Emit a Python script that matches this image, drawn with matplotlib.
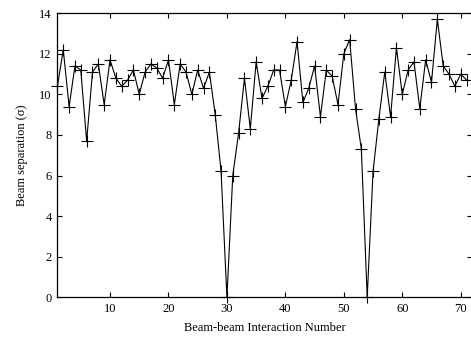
import matplotlib
matplotlib.use("Agg")
import matplotlib.pyplot as plt

plt.rcParams['font.family'] = ['Liberation Serif', 'DejaVu Serif']

# interaction number and beam separation (sigma)
interaction = list(range(1, 72))
separation = [
    10.4, 12.2, 9.4, 11.4, 11.2, 7.7, 11.1, 11.5, 9.5, 11.7,
    10.8, 10.4, 10.7, 11.2, 10.0, 11.1, 11.5, 11.3, 10.8, 11.7,
    9.5, 11.5, 11.1, 10.0, 11.2, 10.3, 11.1, 9.0, 6.2, 0.0,
    6.0, 8.1, 10.8, 8.3, 11.6, 9.8, 10.4, 11.2, 11.2, 9.4,
    10.7, 12.6, 9.6, 10.3, 11.4, 8.9, 11.2, 10.9, 9.5, 12.0,
    12.7, 9.3, 7.3, 0.0, 6.2, 8.8, 11.1, 8.9, 12.3, 10.0,
    11.2, 11.6, 9.3, 11.7, 10.6, 13.7, 11.4, 11.0, 10.4, 11.0,
    10.7,
]
xticks = [10, 20, 30, 40, 50, 60, 70]
yticks = [0, 2, 4, 6, 8, 10, 12, 14]

fig = plt.figure(figsize=(4.71, 3.43), dpi=100)
ax = fig.add_axes([0.1219, 0.1332, 0.8811, 0.8283])

ax.plot(interaction, separation, color='black', linewidth=0.8,
        marker='+', markersize=9, markeredgewidth=0.8, clip_on=False)

ax.set_xlim(1, 72)
ax.set_ylim(0, 14)
ax.set_xticks(xticks)
ax.set_yticks(yticks)
ax.tick_params(direction='in', length=3.5, width=0.8, top=True, right=True,
               labelsize=9, pad=4)
for s in ax.spines.values():
    s.set_linewidth(0.9)

ax.set_xlabel('Beam-beam Interaction Number', fontsize=9, labelpad=5)
ax.set_ylabel('Beam separation (σ)', fontsize=9, labelpad=8)

fig.savefig('out.png', dpi=100)
